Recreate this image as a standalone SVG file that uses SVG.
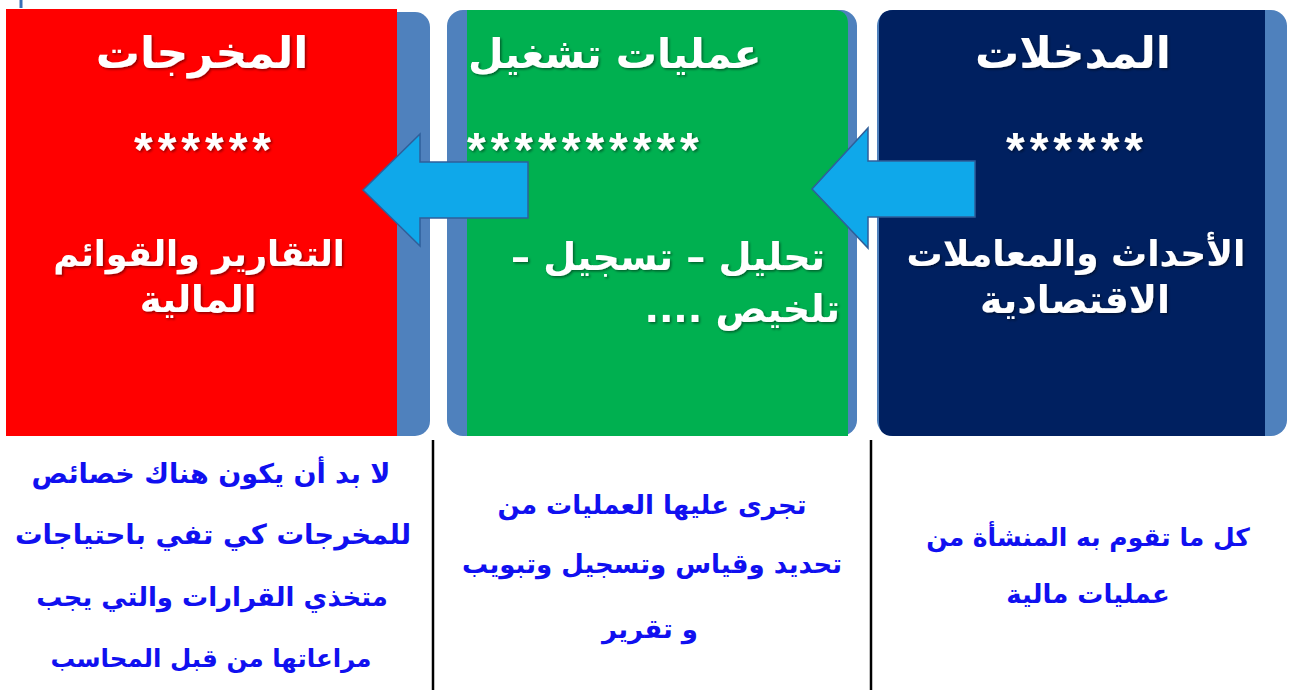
<svg xmlns="http://www.w3.org/2000/svg" width="1291" height="690" viewBox="0 0 1291 690">
<style>
.strip{fill:#4f81bd}
.t{font-family:"DejaVu Sans",sans-serif;font-weight:bold;fill:#ffffff;direction:rtl}
.title{font-size:44px}
.body{font-size:38px}
.stars{font-family:"Liberation Sans",sans-serif;font-weight:bold;font-size:48px;fill:#ffffff;letter-spacing:5px}
.note{font-family:"DejaVu Sans",sans-serif;font-weight:bold;font-size:26px;fill:#1010f0;direction:rtl}
.arrow{fill:#0fa8ea;stroke:#2f5f9a;stroke-width:1.5}
.sep{stroke:#000;stroke-width:2.5}
</style>
<defs>
<filter id="sh" x="-10%" y="-10%" width="120%" height="130%">
<feDropShadow dx="1.5" dy="1.5" stdDeviation="1" flood-color="#000" flood-opacity="0.45"/>
</filter>
</defs>
<rect width="1291" height="690" fill="#ffffff"/>
<path d="M21 0 V8" stroke="#3a6fb5" stroke-width="3"/>

<g id="node-outputs">
<rect class="strip" x="370" y="12" width="60" height="424" rx="15"/>
<rect x="6" y="9" width="391" height="427" fill="#ff0000"/>
<g filter="url(#sh)">
<text class="t title" x="202" y="68" text-anchor="middle">المخرجات</text>
<text class="stars" x="205" y="166" text-anchor="middle">******</text>
<text class="t body" x="199" y="266" text-anchor="middle" style="font-size:35px">التقارير والقوائم</text>
<text class="t body" x="198" y="312" text-anchor="middle" style="font-size:37px">المالية</text>
</g>
</g>

<g id="node-operations">
<rect class="strip" x="447" y="10" width="410" height="426" rx="16"/>
<path d="M467 10 H834 Q848 10 848 24 V436 H467 Z" fill="#00b050"/>
<g filter="url(#sh)">
<text class="t title" x="468" y="68" text-anchor="end" style="font-size:41px">عمليات تشغيل</text>
<text class="stars" x="467" y="166" text-anchor="start">**********</text>
<text class="t body" x="825" y="270" text-anchor="start">تحليل – تسجيل –</text>
<text class="t body" x="840" y="322" text-anchor="start">تلخيص ....</text>
</g>
</g>

<g id="node-inputs">
<rect class="strip" x="877" y="10" width="410" height="426" rx="16"/>
<path d="M893 10 H1265 V436 H893 Q879 436 879 422 V24 Q879 10 893 10 Z" fill="#002060"/>
<g filter="url(#sh)">
<text class="t title" x="1073" y="68" text-anchor="middle">المدخلات</text>
<text class="stars" x="1077" y="166" text-anchor="middle">******</text>
<text class="t body" x="1076" y="266" text-anchor="middle" style="font-size:36px">الأحداث والمعاملات</text>
<text class="t body" x="1075" y="313" text-anchor="middle">الاقتصادية</text>
</g>
</g>

<g id="connectors">
<path class="arrow" d="M528 162 H420 V134 L363 190 L420 246 V218 H528 Z"/>
<path class="arrow" d="M975 161 H868 V128 L812 189 L868 248 V217 H975 Z"/>
<line class="sep" x1="433" y1="440" x2="433" y2="690"/>
<line class="sep" x1="871" y1="440" x2="871" y2="690"/>
</g>

<g id="note-outputs">
<text class="note" x="211" y="483" text-anchor="middle" style="font-size:27px">لا بد أن يكون هناك خصائص</text>
<text class="note" x="213" y="544" text-anchor="middle" style="font-size:27.5px">للمخرجات كي تفي باحتياجات</text>
<text class="note" x="212" y="606" text-anchor="middle">متخذي القرارات والتي يجب</text>
<text class="note" x="211" y="667" text-anchor="middle" style="font-size:24.5px">مراعاتها من قبل المحاسب</text>
</g>
<g id="note-operations">
<text class="note" x="652" y="514" text-anchor="middle">تجرى عليها العمليات من</text>
<text class="note" x="652" y="573" text-anchor="middle">تحديد وقياس وتسجيل وتبويب</text>
<text class="note" x="650" y="638" text-anchor="middle">و تقرير</text>
</g>
<g id="note-inputs">
<text class="note" x="1088" y="546" text-anchor="middle" style="font-size:25px">كل ما تقوم به المنشأة من</text>
<text class="note" x="1088" y="603" text-anchor="middle">عمليات مالية</text>
</g>
</svg>
